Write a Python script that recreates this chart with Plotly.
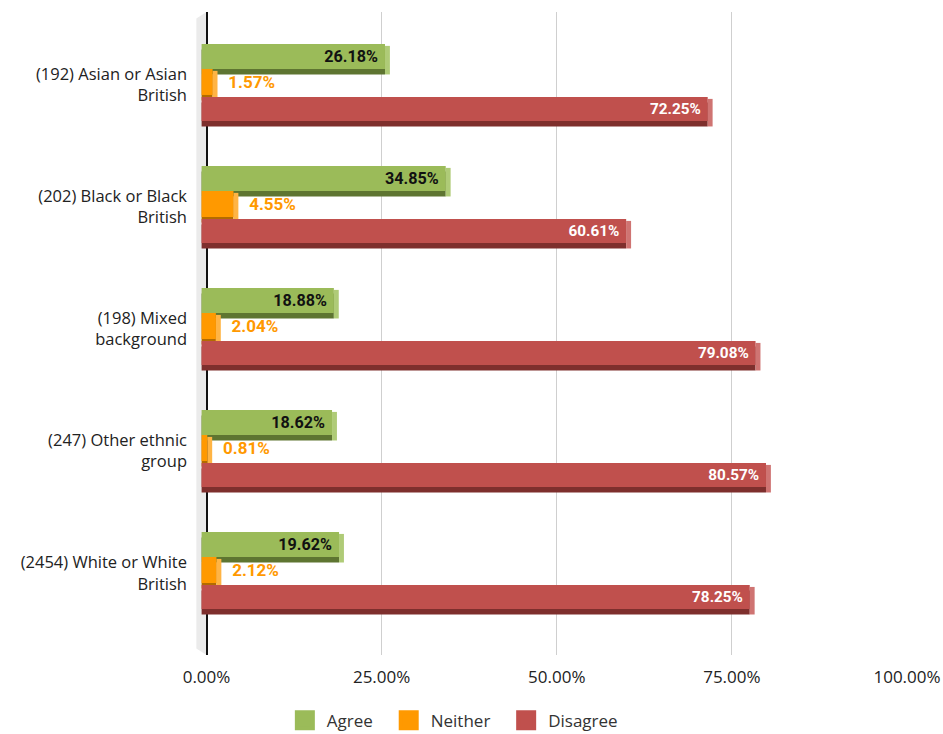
import plotly.graph_objects as go

categories = ["(192) Asian or Asian<br>British", "(202) Black or Black<br>British",
              "(198) Mixed<br>background", "(247) Other ethnic<br>group",
              "(2454) White or White<br>British"]
agree = [26.18, 34.85, 18.88, 18.62, 19.62]
neither = [1.57, 4.55, 2.04, 0.81, 2.12]
disagree = [72.25, 60.61, 79.08, 80.57, 78.25]
series_names = ["Agree", "Neither", "Disagree"]
tick_vals = [0, 25, 50, 75, 100]
tick_text = ["0.00%", "25.00%", "50.00%", "75.00%", "100.00%"]

D = 0.7          # 3D depth in x units
DY = 0.045       # 3D depth in category units
PX = 1 / 122.0   # one pixel in category units

styles = {
    "Agree": dict(front="#9BBB59", bottom="#5E7531", side="#AFCB77",
                  offset=-41 * PX, width=25 * PX, tcolor="#111111", tpos="inside"),
    "Neither": dict(front="#FF9900", bottom="#B36B00", side="#FFB444",
                    offset=-16 * PX, width=26 * PX, tcolor="#FF9900", tpos="outside"),
    "Disagree": dict(front="#C0504D", bottom="#7E2F2D", side="#CF7472",
                     offset=12 * PX, width=24 * PX, tcolor="#FFFFFF", tpos="inside"),
}

fig = go.Figure()
for name, vals in zip(series_names, [agree, neither, disagree]):
    s = styles[name]
    # bottom face
    fig.add_trace(go.Bar(y=categories, x=vals, base=[-D] * len(vals), orientation="h",
                         offset=s["offset"] + DY, width=s["width"],
                         marker=dict(color=s["bottom"], line=dict(width=0)),
                         showlegend=False, hoverinfo="skip"))
    # side face
    fig.add_trace(go.Bar(y=categories, x=[D] * len(vals), base=[v - D for v in vals],
                         orientation="h", offset=s["offset"] + DY * 0.35,
                         width=s["width"] + DY * 0.65,
                         marker=dict(color=s["side"], line=dict(width=0)),
                         showlegend=False, hoverinfo="skip"))
    # front face
    if s["tpos"] == "inside":
        txt = [f"{v:.2f}%\u00a0" for v in vals]
    else:
        txt = [f"\u00a0\u00a0\u00a0{v:.2f}%" for v in vals]
    fig.add_trace(go.Bar(y=categories, x=vals, base=[-D] * len(vals), orientation="h",
                         offset=s["offset"], width=s["width"],
                         marker=dict(color=s["front"], line=dict(width=0)),
                         text=txt, textposition=s["tpos"], insidetextanchor="end",
                         textfont=dict(family="Roboto", size=17, color=s["tcolor"], weight="bold"),
                         cliponaxis=False, showlegend=False, hoverinfo="skip", name=name))
    # legend proxy
    fig.add_trace(go.Scatter(x=[None], y=[None], mode="markers", name=name + "\u00a0\u00a0",
                             marker=dict(symbol="square", size=16, color=s["front"],
                                         line=dict(color=s["front"], width=4))))

# left wall (3D backdrop)
fig.add_shape(type="path", xref="x", yref="paper",
              path="M -1.45 0.01 L -1.45 0.99 L 0 1.0 L 0 0 Z",
              fillcolor="#EBEBEB", line=dict(width=0), layer="below")

fig.update_layout(
    width=943, height=734,
    margin=dict(l=196, r=36, t=12, b=79),
    plot_bgcolor="white", paper_bgcolor="white",
    barmode="overlay",
    font=dict(family="Open Sans", size=17, color="#222222"),
    xaxis=dict(range=[-1.5, 100], tickvals=tick_vals, ticktext=tick_text,
               showgrid=True, gridcolor="#CFCFCF", gridwidth=1,
               zeroline=True, zerolinecolor="#111111", zerolinewidth=1.5,
               showline=False, ticks="", ticklabelstandoff=10, automargin=False,
               tickfont=dict(size=17, color="#222222")),
    yaxis=dict(type="category", categoryorder="array", categoryarray=categories,
               range=[4.672, -0.598], showgrid=False, zeroline=False, showline=False,
               ticks="", ticklabelstandoff=8, automargin=False,
               tickfont=dict(size=16.5, color="#222222")),
    legend=dict(orientation="h", xref="container", yref="container",
                x=0.485, xanchor="center", y=0.018, yanchor="middle",
                font=dict(size=17, color="#333333"), itemsizing="trace",
                itemwidth=34, traceorder="normal"),
    showlegend=True,
)

fig.write_html("out.html", config={"displayModeBar": False},
               post_script="document.body.style.margin='0';document.body.style.padding='0';")
